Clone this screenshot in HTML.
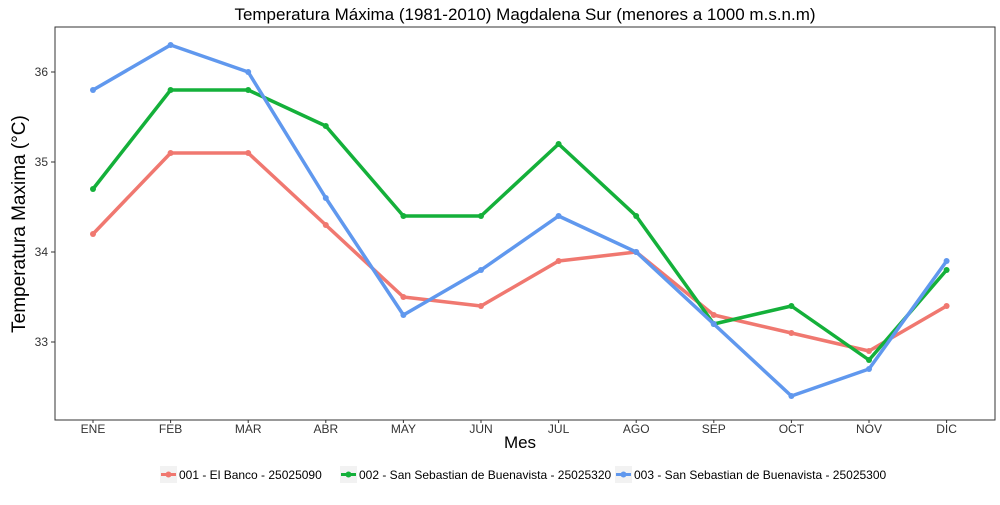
<!DOCTYPE html>
<html><head><meta charset="utf-8"><style>
body{margin:0;background:#fff;font-family:"Liberation Sans",sans-serif}
</style></head><body>
<svg id="c" width="1000" height="500" xmlns="http://www.w3.org/2000/svg">
<rect width="1000" height="500" fill="#fff"/>
<text x="525" y="20" font-size="17" text-anchor="middle" fill="#000">Temperatura Máxima (1981-2010) Magdalena Sur (menores a 1000 m.s.n.m)</text>
<rect x="55" y="27" width="940" height="393" fill="none" stroke="#333" stroke-width="1"/>
<g id="axes"></g>
<g id="series"></g>
<text x="520" y="448" font-size="17" text-anchor="middle">Mes</text>
<text transform="translate(25,224) rotate(-90)" font-size="19" text-anchor="middle">Temperatura Maxima (°C)</text>
<g id="legend"></g>
</svg>
<script>
const months=["ENE","FEB","MAR","ABR","MAY","JUN","JUL","AGO","SEP","OCT","NOV","DIC"];
const yTicks=[33,34,35,36];
const seriesNames=["001 - El Banco - 25025090","002 - San Sebastian de Buenavista - 25025320","003 - San Sebastian de Buenavista - 25025300"];
const colors=["#F07870","#14B03A","#6098EE"];
const red=[34.2,35.1,35.1,34.3,33.5,33.4,33.9,34.0,33.3,33.1,32.9,33.4];
const green=[34.7,35.8,35.8,35.4,34.4,34.4,35.2,34.4,33.2,33.4,32.8,33.8];
const blue=[35.8,36.3,36.0,34.6,33.3,33.8,34.4,34.0,33.2,32.4,32.7,33.9];
const NS="http://www.w3.org/2000/svg";
const x=i=>93+i*77.6;
const y=v=>342-(v-33)*90;
function mk(t,a,p){const e=document.createElementNS(NS,t);for(const k in a)e.setAttribute(k,a[k]);p.appendChild(e);return e;}
const ax=document.getElementById('axes');
yTicks.forEach(v=>{
 const l=mk('line',{x1:51,x2:55,y1:y(v),y2:y(v),stroke:'#333'},ax);
 
 
 const t=mk('text',{x:48,y:y(v)+4,'font-size':12,'text-anchor':'end',fill:'#333'},ax);t.textContent=v;
 
 
});
months.forEach((m,i)=>{
 const l=mk('line',{x1:x(i),x2:x(i),y1:420,y2:423,stroke:'#333'},ax);
 
 
 const t=mk('text',{x:x(i),y:433,'font-size':12,'text-anchor':'middle',fill:'#333'},ax);t.textContent=m;
 
 
});
const sg=document.getElementById('series');
[red,green,blue].forEach((d,s)=>{
 const p=mk('polyline',{points:d.map((v,i)=>x(i)+','+y(v)).join(' '),fill:'none',stroke:colors[s],'stroke-width':3.5,'stroke-linejoin':'round'},sg);
 
 
 d.forEach((v,i)=>{const c=mk('circle',{cx:x(i),cy:y(v),r:3,fill:colors[s]},sg);
 
 });
});
const lg=document.getElementById('legend');
const lx=[160,340,615];
seriesNames.forEach((n,s)=>{
 const r=mk('rect',{x:lx[s],y:466,width:17,height:17,fill:'#f2f2f2'},lg);
 
 
 mk('line',{x1:lx[s]+1,x2:lx[s]+16,y1:474.5,y2:474.5,stroke:colors[s],'stroke-width':3},lg);
 mk('circle',{cx:lx[s]+8.5,cy:474.5,r:3,fill:colors[s]},lg);
 const t=mk('text',{x:lx[s]+19,y:479,'font-size':12,fill:'#000'},lg);t.textContent=n;
 
 
});
</script>
</body></html>
